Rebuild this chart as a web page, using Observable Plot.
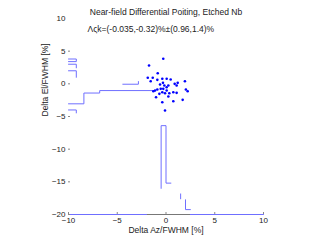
<!DOCTYPE html>
<html><head><meta charset="utf-8">
<script src="https://cdn.jsdelivr.net/npm/d3@7"></script>
<script src="https://cdn.jsdelivr.net/npm/@observablehq/plot@0.6"></script>
<style>body{margin:0;background:#fff}</style>
</head><body><div id="chart"></div>
<script>
const title = "Near-field Differential Poiting, Etched Nb";
const stats = "Λςk=(-0.035,-0.32)%±(0.96,1.4)%";
const xLabel = "Delta Az/FWHM [%]";
const yLabel = "Delta El/FWHM [%]";
const xTicks = [-10, -5, 0, 5, 10];
const yTicks = [-20, -15, -10, -5, 0, 5, 10];
const yTickMarks = [-20, -15, -10, -5, 0, 5];

// scatter points (Delta Az, Delta El) in %
const ptX = [-1.74,-1.87,-1.36,-1.57,-0.85,-0.89,-0.38,0.07,0.48,0.89,1.09,1.2,1.94,-0.31,-0.61,-0.17,0.07,0.24,-0.54,-0.28,-0.89,-1.12,-1.3,-0.38,-0.1,0.07,0.34,0.75,1.09,2.04,2.22,-0.68,0.24,-1.02,-0.38,0.75,1.71,-0.1,-0.28];
const ptY = [2.8,0.92,0.92,0.4,1.62,0.61,0.77,0.77,0.66,0.0,-0.26,0.15,0.4,0.15,-0.1,-0.26,-0.52,-0.26,-0.77,-0.77,-0.87,-1.03,-1.13,-1.29,-1.44,-1.03,-1.44,-1.29,-1.38,-0.87,-1.13,-1.53,-1.94,-2.05,-2.82,-2.66,-2.45,-4.09,3.83];

// bottom stair histogram (Az), vertices with group ids
const azStairX = [-0.5,-0.5,0,0,0.5, 1.5,1.5, 2,2,2.5, -10,-2, 2.5,10];
const azStairY = [-16.0,-6.4,-6.4,-15.2,-15.2, -16.85,-17.6, -17.75,-19.25,-19.25, -20,-20, -20,-20];
const azStairG = [0,0,0,0,0, 1,1, 2,2,2, 3,3, 4,4];

// left stair histogram (El), vertices with group ids
const elStairX = [-10,-9.2,-9.2,-10, -10,-9.2,-9.2, -10,-9.2,-9.2, -10,-9.2,-9.2, -4.43,-2.83,-2.83, -10,-8.42,-8.42,-6.8,-6.8,-1.3];
const elStairY = [3.8,3.8,3.4,3.4, 3.0,3.0,2.45, 2.0,2.0,1.0, -4.0,-4.0,-4.45, -0.06,-0.06,0.35, -3.06,-3.06,-1.41,-1.41,-1.03,-1.03];
const elStairG = [0,0,0,0, 1,1,1, 2,2,2, 3,3,3, 4,4,4, 5,5,5,5,5,5];

const points = ptX.map((x, i) => ({x, y: ptY[i]}));
const azStair = azStairX.map((x, i) => ({x, y: azStairY[i], g: azStairG[i]}));
const elStair = elStairX.map((x, i) => ({x, y: elStairY[i], g: elStairG[i]}));

const histColor = "#6f6fff";
const chart = Plot.plot({
  width: 321, height: 241,
  marginLeft: 68, marginRight: 58, marginTop: 18, marginBottom: 27,
  style: {fontFamily: "'Liberation Sans', Arial, sans-serif", fontSize: "8px", color: "#222", background: "#fff"},
  x: {domain: [-10, 10], ticks: xTicks},
  y: {domain: [-20, 10], ticks: yTicks},
  marks: [
    Plot.ruleY([-20], {stroke: "#777", strokeWidth: 1}),
    Plot.line(azStair, {x: "x", y: "y", z: "g", stroke: histColor, strokeWidth: 1}),
    Plot.line(elStair, {x: "x", y: "y", z: "g", stroke: histColor, strokeWidth: 1}),
    Plot.dot(points, {x: "x", y: "y", r: 1.3, fill: "#0000ff", stroke: null}),
    Plot.axisY(yTicks, {tickSize: 0, tickPadding: 3, fontSize: 8, label: null}),
    Plot.axisY(yTickMarks, {tickSize: 2, dx: 2, tickFormat: () => "", stroke: "#888", label: null}),
    Plot.axisX(xTicks, {tickSize: 0, tickPadding: 3, fontSize: 8, label: null}),
    Plot.axisX(xTicks, {tickSize: 2, dy: -2, tickFormat: () => "", stroke: "#888", label: null}),
    Plot.text([title], {frameAnchor: "top", dy: -10, fontSize: 8.5, fill: "#222"}),
    Plot.text([stats], {frameAnchor: "top-left", dx: 19, dy: 7, textAnchor: "start", fontSize: 8.5, fill: "#222"}),
    Plot.text([xLabel], {frameAnchor: "bottom", dy: 18, fontSize: 8.5, fill: "#222"}),
    Plot.text([yLabel], {frameAnchor: "left", dx: -23, rotate: -90, fontSize: 8.5, fill: "#222"})
  ]
});
document.getElementById("chart").appendChild(chart);
</script>
</body></html>
